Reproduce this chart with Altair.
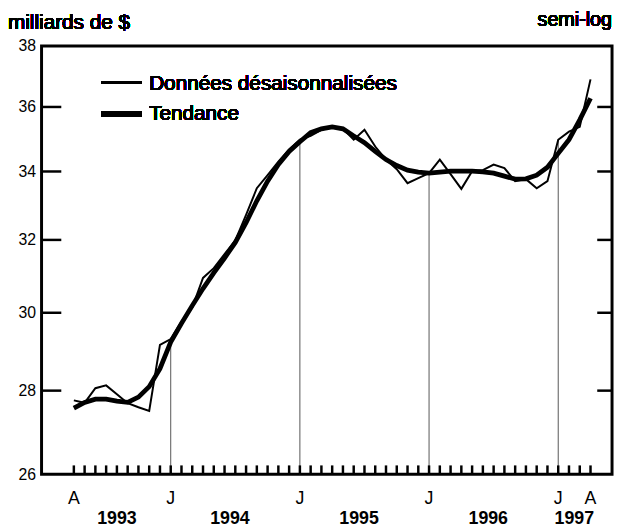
import altair as alt
import pandas as pd

# ---- data ----
months = [str(p) for p in pd.period_range("1993-04", "1997-04", freq="M")]

donnees = [
    27.76, 27.70, 28.06, 28.13, 27.91, 27.69, 27.59, 27.50, 29.16,
    29.31, 29.77, 30.14, 30.94, 31.21, 31.60, 31.99, 32.72, 33.50, 33.89, 34.30, 34.67,
    34.97, 35.09, 35.28, 35.37, 35.31, 34.97, 35.28, 34.76, 34.36, 34.07, 33.65, 33.80,
    33.95, 34.36, 33.92, 33.48, 34.01, 34.04, 34.21, 34.10, 33.71, 33.77, 33.50, 33.71,
    34.97, 35.22, 35.37, 36.89,
]
tendance = [
    27.57, 27.71, 27.79, 27.79, 27.74, 27.71, 27.84, 28.10, 28.55,
    29.23, 29.72, 30.19, 30.65, 31.08, 31.49, 31.93, 32.49, 33.13, 33.71, 34.21, 34.61,
    34.91, 35.19, 35.31, 35.37, 35.31, 35.09, 34.88, 34.61, 34.36, 34.18, 34.04, 33.98,
    33.95, 33.98, 34.01, 34.01, 34.01, 33.99, 33.95, 33.86, 33.77, 33.78, 33.89, 34.13,
    34.55, 34.97, 35.59, 36.28,
]
label_months = ["1993-04", "1994-01", "1995-01", "1996-01", "1997-01", "1997-04"]
label_text = ["A", "J", "J", "J", "J", "A"]
drop_months = ["1994-01", "1995-01", "1996-01", "1997-01"]
y_labels = [26, 28, 30, 32, 34, 36, 38]
y_inner_ticks = [28, 30, 32, 34, 36]
series_names = ["Données désaisonnalisées", "Tendance"]

FONT = "Liberation Sans"
W, H = 578, 434


def midx(s):
    y, m = s.split("-")
    return (int(y) - 1993) * 12 + int(m) - 1


df = pd.DataFrame({"month": months, "donnees": donnees, "tendance": tendance})
df["m"] = df["month"].map(midx)
df["year"] = df["month"].str[:4]

drops = df[df["month"].isin(drop_months)].copy()
drops["base"] = 26

lab = pd.DataFrame({"m": [midx(s) for s in label_months], "t": label_text})
yrs = df.groupby("year", as_index=False)["m"].mean()
yt = pd.DataFrame({"v": y_inner_ticks})

xscale = alt.Scale(domain=[0, 53], nice=False, zero=False)
yscale = alt.Scale(type="log", domain=[26, 38], nice=False, zero=False)
yaxis = alt.Axis(values=y_labels, ticks=False, domain=False, grid=False,
                 labelFont=FONT, labelFontSize=16, labelColor="black",
                 labelPadding=6, title=None, format="d")


def X(f):
    return alt.X(f, type="quantitative", scale=xscale, axis=None)


def Y(f):
    return alt.Y(f, type="quantitative", scale=yscale, axis=yaxis)


base = alt.Chart(df)

drop_layer = alt.Chart(drops).mark_rule(color="#555555", strokeWidth=1).encode(
    x=X("m"), y=Y("donnees"), y2="base")

thick = base.mark_line(color="black", strokeWidth=4.8).encode(x=X("m"), y=Y("tendance"))
thin = base.mark_line(color="black", strokeWidth=2).encode(x=X("m"), y=Y("donnees"))

mticks = base.mark_rule(color="black", strokeWidth=2.5).encode(
    x=X("m"), y=alt.value(H), y2=alt.value(H - 9))

lticks = alt.Chart(yt).mark_rule(color="black", strokeWidth=2.5).encode(
    y=Y("v"), x=alt.value(0), x2=alt.value(20))
rticks = alt.Chart(yt).mark_rule(color="black", strokeWidth=2.5).encode(
    y=Y("v"), x=alt.value(W - 15), x2=alt.value(W))

xlabels = alt.Chart(lab).mark_text(font=FONT, fontSize=18, color="black",
                                   baseline="alphabetic", align="center").encode(
    x=X("m"), y=alt.value(464), text="t:N")
ylabels = alt.Chart(yrs).mark_text(font=FONT, fontSize=18, fontWeight="bold",
                                   color="black", baseline="alphabetic",
                                   align="center").encode(
    x=X("m"), y=alt.value(484), text="year:N")

leg1 = alt.Chart(df).mark_rule(color="black", strokeWidth=2, strokeCap="butt").encode(
    x=alt.value(61), x2=alt.value(101), y=alt.value(37))
leg2 = alt.Chart(df).mark_rule(color="black", strokeWidth=5, strokeCap="butt").encode(
    x=alt.value(61), x2=alt.value(101), y=alt.value(69))
legt1 = alt.Chart(df).mark_text(font=FONT, fontSize=21, color="black", align="left",
                                baseline="alphabetic").encode(
    x=alt.value(109), y=alt.value(45), text=alt.value(series_names[0]))
legt2 = alt.Chart(df).mark_text(font=FONT, fontSize=21, color="black", align="left",
                                baseline="alphabetic").encode(
    x=alt.value(109), y=alt.value(75), text=alt.value(series_names[1]))

t1 = alt.Chart(df).mark_text(font=FONT, fontSize=21, color="black", align="left",
                             baseline="alphabetic").encode(
    x=alt.value(-34), y=alt.value(-17), text=alt.value("milliards de $"))
t2 = alt.Chart(df).mark_text(font=FONT, fontSize=20, color="black", align="right",
                             baseline="alphabetic").encode(
    x=alt.value(W), y=alt.value(-20), text=alt.value("semi-log"))

chart = alt.layer(
    drop_layer, thick, thin, mticks, lticks, rticks, xlabels, ylabels,
    leg1, leg2, legt1, legt2, t1, t2
).properties(
    width=W, height=H,
    padding={"left": 34, "top": 35, "right": 3, "bottom": 52},
    autosize=alt.AutoSizeParams(type="none"),
    background="white",
).configure_view(stroke="black", strokeWidth=3)

chart.save("out.html", embed_options={"renderer": "svg", "actions": False})
